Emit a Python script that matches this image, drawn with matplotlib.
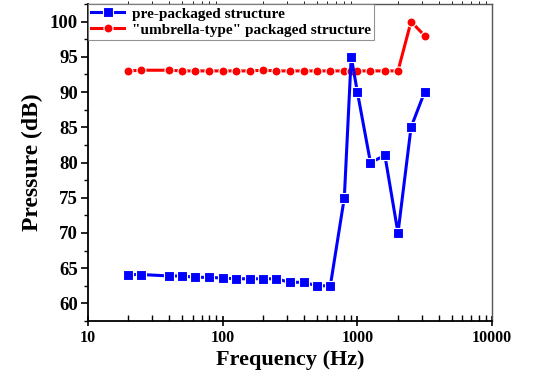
import matplotlib
matplotlib.use('Agg')
import matplotlib.pyplot as plt
from matplotlib.ticker import MultipleLocator, NullFormatter, LogLocator

plt.rcParams['font.family'] = ['Liberation Serif', 'DejaVu Serif']
plt.rcParams['font.weight'] = 'bold'

# 数据
freq_blue = [20, 25, 40, 50, 63, 80, 100, 125, 160, 200, 250, 315, 400, 500, 630,
             800, 900, 1000, 1250, 1600, 2000, 2500, 3150]
pre_packaged = [64.1, 64.1, 63.9, 63.9, 63.7, 63.7, 63.6, 63.5, 63.5, 63.5, 63.5,
                63.0, 63.0, 62.5, 62.5, 75, 95, 90, 80, 81, 70, 85, 90]
freq_red = [20, 25, 40, 50, 63, 80, 100, 125, 160, 200, 250, 315, 400, 500, 630,
            800, 900, 1000, 1250, 1600, 2000, 2500, 3150]
umbrella = [93.0, 93.1, 93.1, 93.0, 93.0, 93.0, 93.0, 93.0, 93.0, 93.1, 93.0,
            93.0, 93.0, 93.0, 93.0, 93.0, 93.0, 93.0, 93.0, 93.0, 93.0, 100, 98]

fig = plt.figure(figsize=(5.43, 3.84), dpi=100)
ax = fig.add_axes([0.1615, 0.164, 0.745, 0.8256])

ax.plot(freq_red, umbrella, color='red', lw=2.2, marker='o', ms=6.5,
        mec='white', mew=0.8, label='"umbrella-type" packaged structure', zorder=3)
ax.plot(freq_blue, pre_packaged, color='blue', lw=2.2, marker='s', ms=6.5,
        mec='white', mew=0.8, label='pre-packaged structure', zorder=4)

ax.set_xscale('log')
ax.set_xlim(10, 10000)
ax.set_ylim(57.5, 102.5)
ax.yaxis.set_major_locator(MultipleLocator(5))
ax.yaxis.set_minor_locator(MultipleLocator(2.5))
ax.xaxis.set_minor_locator(LogLocator(base=10, subs=range(2, 10)))
ax.xaxis.set_minor_formatter(NullFormatter())
ax.set_xticks([10, 100, 1000, 10000])
ax.set_xticklabels(['10', '100', '1000', '10000'])

ax.tick_params(axis='x', which='major', direction='inout', length=7, width=1.2,
               labelsize=11.5, pad=3)
ax.tick_params(axis='x', which='minor', direction='in', length=4, width=1)
ax.tick_params(axis='y', which='major', direction='out', length=5, width=1.2,
               labelsize=13.5, pad=2)
ax.tick_params(axis='y', which='minor', direction='out', length=3, width=1)

for s in ['left', 'bottom']:
    ax.spines[s].set_linewidth(1.3)
    ax.spines[s].set_color('black')
for s in ['top', 'right']:
    ax.spines[s].set_linewidth(1.0)
    ax.spines[s].set_color('#555555')

# 顶部和右侧的刻度
top = ax.secondary_xaxis('top', transform=ax.transAxes)
top.set_xticks([0.115 + 0.1036 * k for k in range(9)])
top.tick_params(direction='in', length=3, width=0.8, color='#555555', labeltop=False)
top.spines['top'].set_visible(False)
right = ax.secondary_yaxis('right', transform=ax.transAxes)
right.set_yticks([0.1 * k for k in range(1, 10)])
right.tick_params(direction='in', length=3, width=0.8, color='#555555', labelright=False)
right.spines['right'].set_visible(False)

ax.set_xlabel('Frequency (Hz)', fontsize=16, fontweight='bold', labelpad=3)
ax.set_ylabel('Pressure (dB)', fontsize=17, fontweight='bold', labelpad=5)

handles, labels = ax.get_legend_handles_labels()
leg = ax.legend(handles[::-1], labels[::-1], loc='upper left', borderaxespad=0,
                fancybox=False, edgecolor='#777777',
                handlelength=2.2, handletextpad=0.5, borderpad=0.2,
                labelspacing=0.15, prop={'weight': 'bold', 'size': 11})
leg.get_frame().set_linewidth(0.8)

plt.savefig('out.png', dpi=100)
